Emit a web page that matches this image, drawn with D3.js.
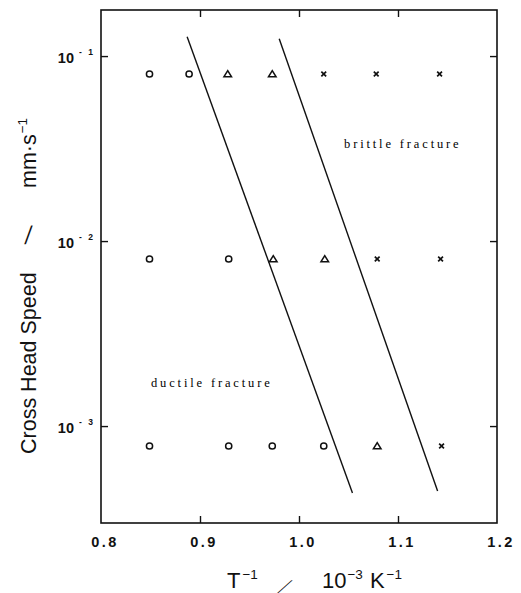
<!DOCTYPE html>
<html><head><meta charset="utf-8">
<script src="https://cdn.jsdelivr.net/npm/d3@7"></script>
<style>body{margin:0;background:#fff}svg{display:block}</style>
</head><body><svg id="c" width="521" height="593"></svg>
<script>
// ---- data ----
const xTicks = [0.8, 0.9, 1.0, 1.1, 1.2];
const xTickLabels = ["0.8", "0.9", "1.0", "1.1", "1.2"];
const yTicks = [1e-1, 1e-2, 1e-3];
const yTickExponents = ["-1", "-2", "-3"];
// ductile fracture (circles)
const ductileX = [0.849, 0.889, 0.849, 0.929, 0.849, 0.929, 0.973, 1.025];
const ductileY = [0.080, 0.080, 0.0080, 0.0080, 0.00078, 0.00078, 0.00078, 0.00078];
// mixed (triangles)
const mixedX = [0.928, 0.973, 0.974, 1.026, 1.079];
const mixedY = [0.080, 0.080, 0.0080, 0.0080, 0.00078];
// brittle fracture (crosses)
const brittleX = [1.025, 1.078, 1.142, 1.079, 1.143, 1.144];
const brittleY = [0.080, 0.080, 0.080, 0.0080, 0.0080, 0.00078];
// boundary lines
const boundary1X = [0.887, 1.054];
const boundary1Y = [0.127, 0.000435];
const boundary2X = [0.980, 1.140];
const boundary2Y = [0.124, 0.000446];
// region labels
const regionLabels = ["brittle fracture", "ductile fracture"];
const regionLabelX = [1.0455, 0.8505];
const regionLabelY = [0.0335, 0.00171];

// ---- chart ----
const svg = d3.select("#c");
svg.append("rect").attr("width", 521).attr("height", 593).attr("fill", "#fff");
const L = 101, R = 497, T = 10, B = 523;
const x = d3.scaleLinear().domain([0.8, 1.2]).range([L, R]);
const y = d3.scaleLog().domain([Math.pow(10, -3.524), Math.pow(10, -0.751)]).range([B, T]);
const ink = "#111";
const sans = "Liberation Sans, Arial, sans-serif";

// frame
svg.append("rect").attr("x", L).attr("y", T).attr("width", R - L).attr("height", B - T)
  .attr("fill", "none").attr("stroke", ink).attr("stroke-width", 1.6);

const inner = [0.9, 1.0, 1.1];
function styleAxis(g) {
  g.select(".domain").remove();
  g.selectAll("line").attr("stroke", ink).attr("stroke-width", 1.4);
  g.selectAll("text").remove();
}
svg.append("g").attr("transform", `translate(0,${B})`)
  .call(d3.axisBottom(x).tickValues(inner).tickSize(-7)).call(styleAxis);
svg.append("g").attr("transform", `translate(0,${T})`)
  .call(d3.axisTop(x).tickValues(inner).tickSize(-7)).call(styleAxis);
svg.append("g").attr("transform", `translate(${L},0)`)
  .call(d3.axisLeft(y).tickValues(yTicks).tickSize(-7)).call(styleAxis);
svg.append("g").attr("transform", `translate(${R},0)`)
  .call(d3.axisRight(y).tickValues(yTicks).tickSize(-7)).call(styleAxis);

// x tick labels
svg.append("g").selectAll("text").data(xTicks).join("text")
  .attr("x", (d) => x(d) + 4).attr("y", 547)
  .attr("text-anchor", "middle")
  .attr("font-family", sans)
  .attr("font-weight", "bold").attr("font-size", 14.5).attr("letter-spacing", 2.5)
  .attr("fill", ink)
  .text((d, i) => xTickLabels[i]);

// y tick labels
const yl = svg.append("g").selectAll("g").data(yTicks).join("g")
  .attr("transform", (d) => `translate(0,${y(d) + 2})`);
yl.append("text").attr("x", 74).attr("y", 5).attr("text-anchor", "end")
  .attr("font-family", sans)
  .attr("font-weight", "bold").attr("font-size", 14.5).attr("fill", ink).text("10");
yl.append("text").attr("x", 79).attr("y", -3)
  .attr("font-family", sans)
  .attr("font-weight", "bold").attr("font-size", 8.5).attr("letter-spacing", 2).attr("fill", ink)
  .text((d, i) => yTickExponents[i].replace("-", "- "));

// boundary lines
const line = d3.line().x((d) => x(d[0])).y((d) => y(d[1]));
[[boundary1X, boundary1Y], [boundary2X, boundary2Y]].forEach(([bx, by]) => {
  svg.append("path").datum(bx.map((v, i) => [v, by[i]]))
    .attr("d", line).attr("fill", "none").attr("stroke", ink).attr("stroke-width", 1.4);
});

// markers
svg.append("g").selectAll("circle").data(ductileX.map((v, i) => [v, ductileY[i]])).join("circle")
  .attr("cx", (d) => x(d[0])).attr("cy", (d) => y(d[1])).attr("r", 3.1)
  .attr("fill", "none").attr("stroke", ink).attr("stroke-width", 1.5);
svg.append("g").selectAll("path").data(mixedX.map((v, i) => [v, mixedY[i]])).join("path")
  .attr("transform", (d) => `translate(${x(d[0])},${y(d[1])})`)
  .attr("d", "M0,-3.3L3.8,2.8L-3.8,2.8Z")
  .attr("fill", "none").attr("stroke", ink).attr("stroke-width", 1.5).attr("stroke-linejoin", "miter");
svg.append("g").selectAll("path").data(brittleX.map((v, i) => [v, brittleY[i]])).join("path")
  .attr("transform", (d) => `translate(${x(d[0])},${y(d[1])})`)
  .attr("d", "M-2.4,-2.4L2.4,2.4M-2.4,2.4L2.4,-2.4")
  .attr("fill", "none").attr("stroke", ink).attr("stroke-width", 1.7);

// region labels
svg.append("g").selectAll("text").data(regionLabels).join("text")
  .attr("x", (d, i) => x(regionLabelX[i])).attr("y", (d, i) => y(regionLabelY[i]) + 4)
  .attr("font-family", "Liberation Serif, Times New Roman, serif")
  .attr("font-size", 12.5).attr("letter-spacing", 2.85).attr("fill", "#000")
  .text((d) => d);

// x axis title
const xt = svg.append("text").attr("y", 588).attr("font-family", sans).attr("font-size", 22).attr("fill", ink);
xt.append("tspan").attr("x", 227).text("T");
xt.append("tspan").attr("dy", -9).attr("dx", 2).attr("font-size", 13.5).text("−1");
svg.append("text").attr("transform", "translate(278,591) skewX(-48)")
  .attr("font-family", sans).attr("font-size", 15)
  .attr("fill", ink).text("|");
const xt2 = svg.append("text").attr("y", 588).attr("font-family", sans).attr("font-size", 22).attr("fill", ink);
xt2.append("tspan").attr("x", 322).text("10");
xt2.append("tspan").attr("dy", -9).attr("dx", 1).attr("font-size", 13.5).text("−3");
xt2.append("tspan").attr("dy", 9).attr("dx", 7).text("K");
xt2.append("tspan").attr("dy", -9).attr("dx", 2).attr("font-size", 13.5).text("−1");

// y axis title
const yt = svg.append("text").attr("transform", "translate(36,454) rotate(-90)")
  .attr("font-family", sans).attr("font-size", 21.5).attr("fill", ink);
yt.append("tspan").attr("x", 0).text("Cross Head Speed");
svg.append("text").attr("transform", "translate(24,240) skewX(-20)")
  .attr("font-family", sans).attr("font-size", 20).attr("fill", ink).text("|");
const yt2 = svg.append("text").attr("transform", "translate(36,188) rotate(-90)")
  .attr("font-family", sans).attr("font-size", 21.5).attr("fill", ink);
yt2.append("tspan").attr("x", 0).text("mm·s");
yt2.append("tspan").attr("dy", -9).attr("dx", 1).attr("font-size", 13.5).text("−1");
</script>
</body></html>
